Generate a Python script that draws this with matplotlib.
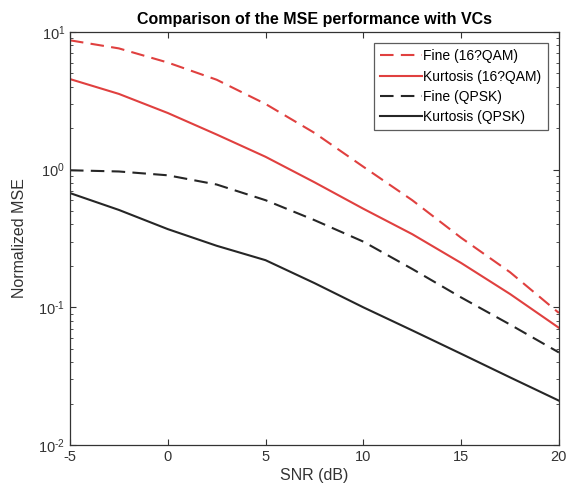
import matplotlib
matplotlib.use("Agg")
import matplotlib.pyplot as plt
from matplotlib.ticker import LogLocator, NullFormatter, FixedLocator, FixedFormatter

plt.rcParams['font.family'] = ['Liberation Sans', 'DejaVu Sans']
plt.rcParams['axes.unicode_minus'] = False
plt.rcParams['mathtext.fontset'] = 'custom'
plt.rcParams['mathtext.rm'] = 'Liberation Sans'
plt.rcParams['mathtext.it'] = 'Liberation Sans:italic'
plt.rcParams['mathtext.bf'] = 'Liberation Sans:bold'

snr = [-5, -2.5, 0, 2.5, 5, 7.5, 10, 12.5, 15, 17.5, 20]
fine_16qam = [8.7, 7.6, 6.0, 4.5, 3.0, 1.85, 1.05, 0.6, 0.32, 0.18, 0.091]
kurt_16qam = [4.55, 3.55, 2.58, 1.8, 1.24, 0.81, 0.52, 0.34, 0.21, 0.125, 0.071]
fine_qpsk = [0.99, 0.97, 0.91, 0.78, 0.6, 0.43, 0.30, 0.19, 0.118, 0.075, 0.047]
kurt_qpsk = [0.676, 0.51, 0.37, 0.28, 0.22, 0.15, 0.10, 0.068, 0.046, 0.031, 0.021]

labels = ["Fine (16?QAM)", "Kurtosis (16?QAM)", "Fine (QPSK)", "Kurtosis (QPSK)"]
ytick_vals = [1e-2, 1e-1, 1e0, 1e1]
ytick_labels = [r'$10^{\text{-2}}$', r'$10^{\text{-1}}$', r'$10^{0}$', r'$10^{1}$']

red = '#e0403f'
blk = '#262626'
gray = '#333333'
dash = (0, (6.5, 3.5))

fig = plt.figure(figsize=(5.68, 4.99), dpi=100)
ax = fig.add_axes([0.1232, 0.1082, 0.8608, 0.8277])

ax.semilogy(snr, fine_16qam, linestyle=dash, color=red, lw=1.5, label=labels[0])
ax.semilogy(snr, kurt_16qam, linestyle='-', color=red, lw=1.5, label=labels[1])
ax.semilogy(snr, fine_qpsk, linestyle=dash, color=blk, lw=1.5, label=labels[2])
ax.semilogy(snr, kurt_qpsk, linestyle='-', color=blk, lw=1.5, label=labels[3])

ax.set_xlim(-5, 20)
ax.set_ylim(1e-2, 1e1)
ax.set_xticks([-5, 0, 5, 10, 15, 20])
ax.yaxis.set_major_locator(FixedLocator(ytick_vals))
ax.yaxis.set_major_formatter(FixedFormatter(ytick_labels))
ax.yaxis.set_minor_locator(LogLocator(base=10, subs=range(2, 10)))
ax.yaxis.set_minor_formatter(NullFormatter())

ax.tick_params(which='both', direction='in', top=True, right=True, colors=gray,
               labelsize=10.5, labelcolor=gray)
ax.tick_params(which='major', length=4)
ax.tick_params(which='minor', length=2)
for s in ax.spines.values():
    s.set_color(gray)
    s.set_linewidth(0.9)

ax.set_xlabel("SNR (dB)", fontsize=11.5, color=gray, labelpad=3)
ax.set_ylabel("Normalized MSE", fontsize=11.5, color=gray, labelpad=8)
ax.set_title("Comparison of the MSE performance with VCs", fontsize=11.5,
             fontweight='bold', color='black', pad=6)

leg = ax.legend(loc='upper right', fontsize=10, frameon=True, fancybox=False,
                edgecolor=gray, handlelength=3.0, handletextpad=0.1,
                borderaxespad=0.8, labelspacing=0.45, borderpad=0.45)
leg.get_frame().set_linewidth(0.9)

fig.savefig("out.png", dpi=100)
